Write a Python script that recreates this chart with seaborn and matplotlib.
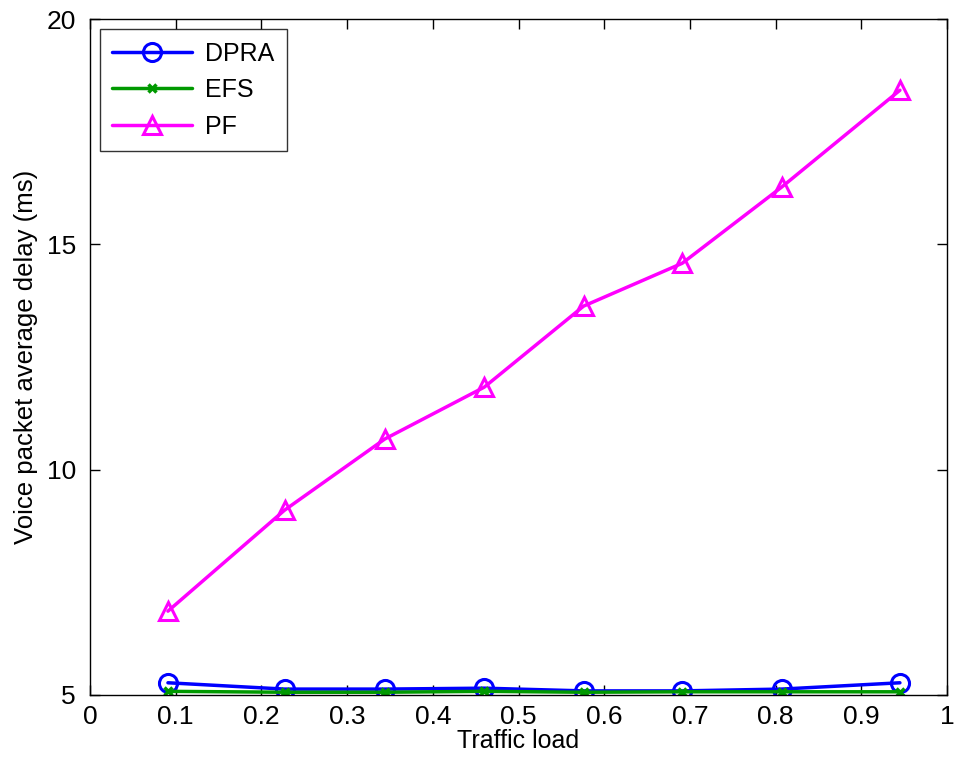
import numpy as np
import pandas as pd
import matplotlib
matplotlib.use("Agg")
import matplotlib.pyplot as plt
import seaborn as sns
from matplotlib.lines import Line2D

traffic_load = [0.091, 0.227, 0.344, 0.460, 0.576, 0.691, 0.807, 0.945]
dpra = [5.27, 5.13, 5.13, 5.15, 5.09, 5.09, 5.13, 5.27]
efs = [5.08, 5.06, 5.06, 5.08, 5.06, 5.07, 5.07, 5.07]
pf = [6.86, 9.10, 10.68, 11.83, 13.63, 14.58, 16.27, 18.42]
series_names = ["DPRA", "EFS", "PF"]

df = pd.DataFrame({
    "load": traffic_load * 3,
    "delay": dpra + efs + pf,
    "scheme": [s for s in series_names for _ in traffic_load],
})

sns.set_theme(style="white")
plt.rcParams['font.family'] = ['Liberation Sans', 'DejaVu Sans']
plt.rcParams['text.color'] = 'black'
plt.rcParams['axes.labelcolor'] = 'black'

fig = plt.figure(figsize=(9.57, 7.62), dpi=100)
ax = fig.add_axes([0.094, 0.088, 0.8956, 0.887])

colors = {"DPRA": "#0000ff", "EFS": "#009900", "PF": "#ff00ff"}
markers = {"DPRA": "o", "EFS": "X", "PF": "^"}
sns.lineplot(data=df, x="load", y="delay", hue="scheme", style="scheme",
             palette=colors, markers=markers, dashes=False, ax=ax,
             linewidth=2.5, legend=False)

lines = ax.get_lines()
for line, name in zip(lines, series_names):
    c = colors[name]
    line.set_markeredgecolor(c)
    if name == "EFS":
        line.set_marker("x")
        line.set_markersize(6)
        line.set_markeredgewidth(2.5)
    else:
        line.set_markerfacecolor("none")
        line.set_markersize(13)
        line.set_markeredgewidth(2.2)

handles = [
    Line2D([], [], color="#0000ff", lw=2.5, marker="o", ms=13, mfc="none", mec="#0000ff", mew=2.2),
    Line2D([], [], color="#009900", lw=2.5, marker="x", ms=6, mec="#009900", mew=2.5),
    Line2D([], [], color="#ff00ff", lw=2.5, marker="^", ms=13, mfc="none", mec="#ff00ff", mew=2.2),
]
leg = ax.legend(handles, series_names, loc="upper left", fontsize=18,
                frameon=True, fancybox=False, edgecolor="black",
                borderaxespad=0.4, handlelength=3.2, labelspacing=0.5,
                handletextpad=0.5, borderpad=0.5, labelcolor="black")
leg.get_frame().set_linewidth(1.0)

ax.set_xlim(0, 1)
ax.set_ylim(5, 20)
ax.set_xticks(np.arange(0, 1.01, 0.1))
ax.set_xticklabels(["0", "0.1", "0.2", "0.3", "0.4", "0.5", "0.6", "0.7", "0.8", "0.9", "1"])
ax.set_yticks([5, 10, 15, 20])
ax.tick_params(direction="in", length=7, width=1, labelsize=19, colors="black",
               labelcolor="black", top=True, right=True, bottom=True, left=True)
ax.tick_params(axis="x", pad=7)
ax.tick_params(axis="y", pad=10)
for sp in ax.spines.values():
    sp.set_color("black")
    sp.set_linewidth(1.0)
ax.set_xlabel("Traffic load", fontsize=18, labelpad=0, color="black")
ax.set_ylabel("Voice packet average delay (ms)", fontsize=18.5, labelpad=6, color="black")

fig.savefig("out.png", dpi=100, facecolor="white")
